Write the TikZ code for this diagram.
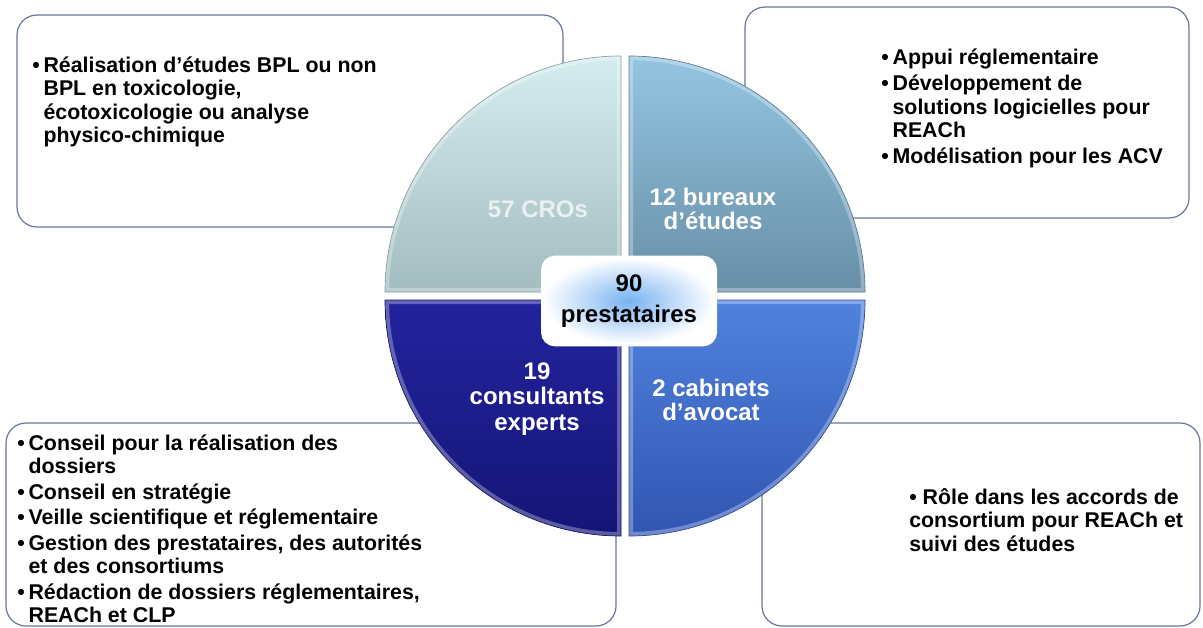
\documentclass[tikz,border=0pt]{standalone}
\usepackage{fontspec}
\setmainfont{Liberation Sans}
\usetikzlibrary{shadows}

% couleurs des quadrants (A = haut, B = bas)
\definecolor{croA}{HTML}{D6EDF0}
\definecolor{croB}{HTML}{A3BCC0}
\definecolor{burA}{HTML}{94C5E2}
\definecolor{burB}{HTML}{688EA6}
\definecolor{conA}{HTML}{23239E}
\definecolor{conB}{HTML}{151577}
\definecolor{avoA}{HTML}{5083DD}
\definecolor{avoB}{HTML}{3155B2}
\definecolor{boxline}{HTML}{66779A}
\definecolor{crotext}{HTML}{E8F0F1}
\definecolor{totalblue}{HTML}{78B2F2}

\tikzset{
  infobox/.style={draw=boxline, line width=0.9pt, fill=white, rounded corners=15pt},
  infotext/.style={anchor=base west, inner sep=0pt, font=\bfseries\fontsize{16}{17.6}\selectfont},
  secteur/.style={text=white, align=center, inner sep=0pt, font=\bfseries\fontsize{18}{18}\selectfont},
  totalbox/.style={draw=white, line width=3pt, rounded corners=9pt, inner color=totalblue, outer color=white,
    minimum width=129pt, minimum height=65pt, align=center, font=\bfseries\fontsize{18}{23}\selectfont,
    drop shadow={opacity=0.25, shadow xshift=1.5pt, shadow yshift=-1.5pt}}
}

\newcommand{\puce}{\makebox[8.5pt][l]{•}}

\begin{document}
\begin{tikzpicture}[x=0.75pt, y=-0.75pt]
    \fill[white] (0,0) rectangle (1203,628);
    \useasboundingbox (0,0) rectangle (1203,628);

    % Cadres des activités (derrière le disque)
    \draw[infobox] (17,15) rectangle (563,227);
    \draw[infobox] (745,7) rectangle (1189,218);
    \draw[infobox] (6,423) rectangle (616,626);
    \draw[infobox] (762,423) rectangle (1200,626);

    % Disque en quatre quarts légèrement écartés
    \foreach \a/\cx/\cy/\col in {180/621/292/cro, 270/629/292/bur, 0/629/300/avo, 90/621/300/con}{
        \shade[top color=\col A, bottom color=\col B]
            (\cx,\cy) -- ++(\a:236) arc[start angle=\a, delta angle=90, radius=236] -- cycle;
        \begin{scope}
            \clip (\cx,\cy) -- ++(\a:236) arc[start angle=\a, delta angle=90, radius=236] -- cycle;
            \draw[white, opacity=0.3, line width=6pt]
                (\cx,\cy) -- ++(\a:236) arc[start angle=\a, delta angle=90, radius=236] -- cycle;
        \end{scope}
        \draw[\col B!85!black, line width=0.5pt]
            (\cx,\cy) -- ++(\a:236) arc[start angle=\a, delta angle=90, radius=236] -- cycle;
    }

    % Libellés des quarts
    \node[secteur, text=crotext] (cro) at (538,209) {57 CROs};
    \node[secteur] (bureaux) at (713,209) {12 bureaux\\d’études};
    \node[secteur, font=\bfseries\fontsize{18}{19}\selectfont] (consultants) at (537,399) {19\\consultants\\experts};
    \node[secteur] (avocats) at (711,400) {2 cabinets\\d’avocat};

    % Total au centre
    \node[totalbox] (total) at (629,301) {90\\prestataires};

    % Textes des cadres
    \node[infotext] (crotexte) at (32,72.5) {\begin{tabular}[t]{@{}l@{}l@{}}
        \puce & Réalisation d’études BPL ou non\\
              & BPL en toxicologie,\\
              & écotoxicologie ou analyse\\
              & physico-chimique
    \end{tabular}};
    \node[infotext] (burtexte) at (881,64.5) {\begin{tabular}[t]{@{}l@{}l@{}}
        \puce & Appui réglementaire\\[2pt]
        \puce & Développement de\\
              & solutions logicielles pour\\
              & REACh\\[2pt]
        \puce & Modélisation pour les ACV
    \end{tabular}};
    \node[infotext] (contexte) at (17,450.5) {\begin{tabular}[t]{@{}l@{}l@{}}
        \puce & Conseil pour la réalisation des\\
              & dossiers\\[1.5pt]
        \puce & Conseil en stratégie\\[1.5pt]
        \puce & Veille scientifique et réglementaire\\[1.5pt]
        \puce & Gestion des prestataires, des autorités\\
              & et des consortiums\\[1.5pt]
        \puce & Rédaction de dossiers réglementaires,\\
              & REACh et CLP
    \end{tabular}};
    \node[infotext] (avotexte) at (909,504.5) {\begin{tabular}[t]{@{}l@{}}
        • Rôle dans les accords de\\
        consortium pour REACh et\\
        suivi des études
    \end{tabular}};
\end{tikzpicture}
\end{document}
